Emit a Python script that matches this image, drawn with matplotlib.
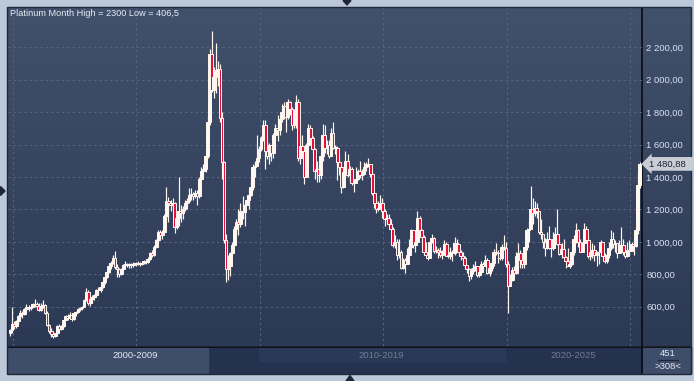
import numpy as np
import matplotlib.pyplot as plt
from matplotlib.patches import Rectangle, Polygon

# monthly platinum candles, Jan 2000 .. Jul 2025 (close / high / low, open = previous close)
first_open = 440
close = [
    455, 490, 480, 510, 545, 560, 555, 585, 600, 590, 600, 615,          # 2000
    615, 605, 580, 605, 610, 560, 485, 450, 430, 420, 435, 480,          # 2001
    465, 480, 520, 545, 530, 550, 525, 560, 565, 585, 590, 600,          # 2002
    640, 690, 620, 650, 660, 670, 700, 705, 720, 755, 785, 815,          # 2003
    850, 870, 900, 845, 830, 800, 830, 855, 860, 855, 860, 855,          # 2004
    865, 870, 860, 865, 870, 880, 875, 895, 930, 920, 970, 1010,         # 2005
    1060, 1040, 1060, 1160, 1250, 1240, 1230, 1240, 1090, 1150, 1190, 1180,  # 2006
    1200, 1240, 1250, 1290, 1295, 1280, 1300, 1285, 1390, 1440, 1450, 1530,  # 2007
    1740, 2160, 1940, 2020, 2060, 2065, 1765, 1490, 1010, 830, 850, 930,     # 2008
    980, 1080, 1120, 1110, 1190, 1185, 1230, 1260, 1290, 1340, 1460, 1470,   # 2009
    1520, 1570, 1640, 1720, 1560, 1530, 1600, 1550, 1660, 1700, 1690, 1760,  # 2010
    1800, 1840, 1770, 1860, 1820, 1720, 1790, 1860, 1520, 1590, 1560, 1400,  # 2011
    1600, 1700, 1640, 1570, 1440, 1450, 1410, 1530, 1660, 1580, 1600, 1530,  # 2012
    1670, 1580, 1580, 1490, 1460, 1340, 1430, 1500, 1410, 1450, 1360, 1360,  # 2013
    1390, 1440, 1410, 1420, 1460, 1480, 1480, 1420, 1300, 1240, 1200, 1210,  # 2014
    1240, 1190, 1140, 1150, 1110, 1080, 980, 1000, 920, 940, 840, 890,       # 2015
    860, 920, 970, 1070, 980, 1000, 1150, 1070, 1030, 940, 920, 900,         # 2016
    1000, 1025, 945, 950, 935, 920, 945, 985, 915, 915, 940, 930,            # 2017
    995, 985, 935, 910, 900, 855, 830, 790, 820, 840, 850, 795,              # 2018
    815, 860, 850, 890, 805, 840, 870, 940, 930, 930, 900, 965,              # 2019
    960, 865, 725, 765, 825, 810, 915, 930, 890, 865, 965, 1070,             # 2020
    1080, 1200, 1180, 1210, 1190, 1060, 1050, 1000, 960, 1015, 960, 960,     # 2021
    1020, 1050, 985, 925, 955, 905, 880, 850, 860, 940, 1015, 1070,          # 2022
    1000, 940, 995, 1080, 1010, 910, 935, 950, 920, 935, 940, 1000,          # 2023
    910, 880, 920, 960, 1020, 985, 990, 930, 980, 980, 935, 910,             # 2024
    950, 945, 985, 975, 1075, 1350, 1480.88,                                 # 2025
]
high = [
    462, 595, 510, 520, 550, 580, 575, 590, 615, 610, 610, 625,
    645, 630, 625, 620, 640, 615, 570, 490, 470, 445, 440, 485,
    490, 485, 525, 550, 555, 565, 560, 565, 575, 590, 600, 605,
    650, 715, 705, 660, 670, 680, 710, 720, 730, 760, 790, 825,
    870, 880, 920, 943, 860, 840, 840, 860, 880, 870, 870, 870,
    875, 875, 880, 875, 880, 890, 890, 905, 935, 950, 980, 1020,
    1070, 1075, 1070, 1170, 1340, 1275, 1260, 1270, 1245, 1180, 1400, 1230,
    1220, 1260, 1270, 1330, 1330, 1310, 1320, 1320, 1400, 1460, 1480, 1535,
    1780, 2190, 2300, 2080, 2230, 2117, 2100, 1800, 1500, 1050, 920, 940,
    1000, 1100, 1140, 1200, 1240, 1280, 1240, 1280, 1330, 1380, 1480, 1500,
    1660, 1590, 1650, 1752, 1750, 1620, 1610, 1600, 1670, 1730, 1780, 1770,
    1850, 1860, 1860, 1880, 1870, 1830, 1820, 1906, 1880, 1650, 1660, 1560,
    1610, 1730, 1720, 1650, 1580, 1500, 1460, 1550, 1730, 1720, 1630, 1630,
    1700, 1740, 1600, 1590, 1530, 1490, 1440, 1560, 1540, 1470, 1460, 1370,
    1460, 1450, 1500, 1450, 1490, 1490, 1517, 1480, 1440, 1300, 1270, 1250,
    1290, 1270, 1200, 1170, 1170, 1140, 1090, 1040, 1020, 1020, 950, 900,
    900, 960, 1020, 1080, 1070, 1010, 1190, 1160, 1080, 1040, 1000, 950,
    1010, 1050, 1030, 975, 960, 965, 950, 1010, 1000, 950, 965, 950,
    1030, 1020, 985, 950, 935, 910, 850, 840, 840, 860, 880, 850,
    830, 880, 875, 920, 900, 845, 880, 955, 990, 950, 940, 985,
    1040, 1000, 880, 800, 845, 850, 935, 990, 950, 915, 970, 1085,
    1130, 1344, 1270, 1250, 1240, 1180, 1140, 1050, 1025, 1060, 1100, 990,
    1060, 1090, 1200, 1000, 990, 1020, 915, 960, 900, 960, 1040, 1115,
    1080, 1020, 1000, 1115, 1095, 1050, 975, 990, 980, 945, 950, 1010,
    1000, 930, 930, 1000, 1075, 1060, 1010, 960, 1010, 1090, 1020, 970,
    1000, 1010, 1000, 1010, 1090, 1440, 1490,
]
low = [
    420, 440, 460, 470, 495, 530, 530, 550, 570, 575, 580, 595,
    595, 590, 575, 570, 590, 555, 480, 440, 415, 406.5, 410, 430,
    455, 455, 475, 515, 520, 525, 510, 520, 545, 560, 570, 580,
    595, 635, 610, 605, 620, 640, 660, 680, 690, 715, 740, 775,
    805, 830, 860, 830, 785, 780, 795, 825, 845, 845, 840, 840,
    845, 850, 855, 850, 855, 860, 860, 870, 885, 905, 915, 960,
    1000, 1020, 1020, 1050, 1140, 1125, 1190, 1200, 1055, 1080, 1100, 1120,
    1140, 1190, 1200, 1240, 1260, 1255, 1270, 1230, 1270, 1380, 1400, 1430,
    1520, 1720, 1925, 1890, 1920, 1960, 1740, 1390, 990, 754, 766, 790,
    910, 970, 1030, 1040, 1090, 1140, 1100, 1230, 1200, 1280, 1320, 1400,
    1500, 1490, 1560, 1620, 1450, 1510, 1480, 1500, 1520, 1630, 1620, 1660,
    1740, 1760, 1680, 1760, 1780, 1690, 1700, 1700, 1500, 1480, 1550, 1355,
    1400, 1590, 1600, 1550, 1390, 1370, 1370, 1390, 1500, 1550, 1540, 1520,
    1530, 1570, 1540, 1380, 1410, 1300, 1330, 1400, 1400, 1370, 1350, 1310,
    1360, 1380, 1395, 1380, 1410, 1440, 1460, 1400, 1290, 1210, 1180, 1190,
    1200, 1150, 1100, 1120, 1100, 1076, 970, 960, 890, 900, 830, 830,
    805, 860, 910, 960, 960, 940, 990, 1060, 1000, 920, 910, 890,
    900, 990, 930, 930, 900, 905, 895, 930, 910, 900, 895, 880,
    920, 965, 920, 890, 890, 840, 805, 760, 770, 800, 820, 780,
    785, 800, 820, 850, 800, 790, 820, 850, 920, 870, 885, 890,
    950, 845, 560, 730, 760, 790, 800, 885, 840, 840, 840, 950,
    1000, 1080, 1110, 1160, 1150, 1050, 1020, 960, 915, 955, 955, 905,
    950, 1010, 980, 920, 900, 905, 840, 850, 840, 855, 920, 990,
    970, 935, 945, 990, 1005, 900, 890, 900, 880, 850, 860, 930,
    880, 870, 870, 900, 950, 960, 935, 900, 930, 955, 920, 900,
    905, 935, 950, 920, 965, 1050, 1330,
]
y_ticks = [600, 800, 1000, 1200, 1400, 1600, 1800, 2000, 2200]
grid_months = [1.3, 61.3, 121.3, 181.3, 241.3, 301.3]
periods = ["2000-2009", "2010-2019", "2020-2025"]
title = "Platinum Month High = 2300 Low = 406,5"

close = np.array(close, dtype=float)
high = np.array(high, dtype=float)
low = np.array(low, dtype=float)
opn = np.concatenate([[first_open], close[:-1]])
idx = np.arange(len(close))

W, H = 694, 381
fig = plt.figure(figsize=(W / 100, H / 100), dpi=100)
fig.patch.set_facecolor("#bac8d9")

# background in pixel coordinates
bg = fig.add_axes([0, 0, 1, 1])
bg.set_xlim(0, W)
bg.set_ylim(H, 0)
bg.axis("off")

top_c = np.array([65, 80, 107]) / 255
bot_c = np.array([44, 57, 84]) / 255
t = np.linspace(0, 1, 200)[:, None, None]
grad = top_c * (1 - t) + bot_c * t
bg.imshow(grad, extent=(8, 691, 346, 8), aspect="auto", zorder=1)

# nav bar
bg.add_patch(Rectangle((8, 347), 683, 26, color="#24324f", zorder=2))
bg.add_patch(Rectangle((259, 347), 246, 14, color="#2a3957", zorder=2))
bg.add_patch(Rectangle((8, 347), 200, 26, color="#3e4d69", zorder=2))
bg.add_patch(Rectangle((643, 347), 48, 26, color="#3e4d69", zorder=2))
bg.plot([8, 691], [346.5, 346.5], color="#080b12", lw=1.2, zorder=3)
bg.plot([642.5, 642.5], [8, 373], color="#080b12", lw=1.2, zorder=3)
bg.add_patch(Rectangle((7, 7), 684.5, 366.5, fill=False, ec="#20283a", lw=1, zorder=3))
bg.text(135, 355, periods[0], color="#e4eaf4", fontsize=6.8, family="Liberation Sans",
        ha="center", va="center", zorder=4)
bg.text(381, 355, periods[1], color="#6f7b90", fontsize=6.8, family="Liberation Sans",
        ha="center", va="center", zorder=4)
bg.text(573, 355, periods[2], color="#6f7b90", fontsize=6.8, family="Liberation Sans",
        ha="center", va="center", zorder=4)
bg.text(668, 353.5, str(451), color="#e4eaf4", fontsize=6.8, family="Liberation Sans",
        ha="center", va="center", zorder=4)
bg.plot([658, 678], [360, 360], color="#1c2638", lw=0.8, zorder=4)
bg.text(668, 366.5, ">%d<" % 308, color="#e4eaf4", fontsize=6.8, family="Liberation Sans",
        ha="center", va="center", zorder=4)

# little arrows on the frame
bg.add_patch(Polygon([(343, 0.5), (351, 0.5), (347, 5)], color="#1d2737", zorder=4))
bg.add_patch(Polygon([(346, 381), (354, 381), (350, 375.5)], color="#1d2737", zorder=4))
bg.add_patch(Polygon([(0.5, 186.5), (0.5, 195.5), (5, 191)], color="#1d2737", zorder=4))

# candle chart
ax = fig.add_axes([8 / W, (H - 346) / H, 634 / W, 338 / H])
ax.patch.set_alpha(0)
ax.set_xlim(-0.97, 307.1)
ax.set_ylim(357, 2443)
for s in ax.spines.values():
    s.set_visible(False)

for g in grid_months:
    ax.axvline(g, color="#56657f", lw=0.7, ls=(0, (2.5, 3)), zorder=1)
for v in y_ticks:
    ax.axhline(v, color="#56657f", lw=0.7, ls=(0, (2.5, 3)), zorder=1)

white = "#fff7f0"
red = "#e5103a"
ax.vlines(idx, low, high, color=white, lw=0.85, zorder=2)
bottom = np.minimum(opn, close)
height = np.maximum(np.abs(close - opn), 3)
faces = [red if c < o else white for o, c in zip(opn, close)]
ax.bar(idx, height, bottom=bottom, width=1.35, color=faces, edgecolor=white,
       linewidth=0.7, zorder=3)

ax.set_xticks([])
ax.yaxis.tick_right()
ax.set_yticks(y_ticks)
ax.set_yticklabels([f"{v:,.2f}".replace(",", " ").replace(".", ",") for v in y_ticks],
                   family="Liberation Sans", fontsize=6.8, color="#d8e2f2")
ax.tick_params(axis="y", length=0, pad=3)

last = close[-1]
ax.annotate(f"{last:,.2f}".replace(",", " ").replace(".", ",") + "  ",
            xy=(1.0, last), xycoords=("axes fraction", "data"),
            xytext=(5, 0), textcoords="offset points", va="center", ha="left",
            fontsize=6.8, family="Liberation Sans", color="#1b2230",
            bbox=dict(boxstyle="larrow,pad=0.25", fc="#c9ced6", ec="none"),
            annotation_clip=False, zorder=6)

fig.text(10 / W, 1 - 14 / H, title, color="#e8eef8", fontsize=6.6,
         family="Liberation Sans", va="center", ha="left")

fig.savefig("out.png", dpi=100, facecolor=fig.get_facecolor())
